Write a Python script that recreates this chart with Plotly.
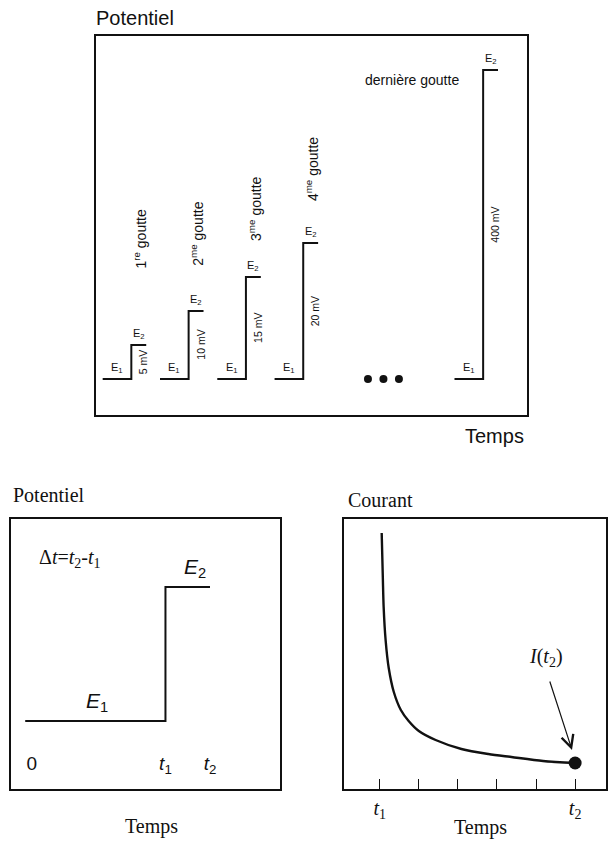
import plotly.graph_objects as go

# ---- Top panel: one potential pulse per mercury drop ----
drop_rank = ["1", "2", "3", "4"]
drop_suffix = ["re", "me", "me", "me"]
pulse_mV = [5, 10, 15, 20, 400]          # pulse amplitude for each drop
drop_start = [0.0, 1.0, 2.0, 3.0, 6.14]  # start of each drop (drop periods)
ellipsis_t = [4.63, 4.9, 5.17]
STEP_DELAY = 0.5                         # time from drop start to the pulse
HOLD = 0.26                              # duration of the E2 plateau
goutte_label_y = [20.7, 21.3, 25.0, 30.9]

# ---- Bottom-left: a single pulse E1 -> E2 ----
pulse_t = [-0.15, 3.0, 4.0]              # start, t1, t2
pulse_E = [1.0, 2.0, 2.0]
pulse_tickvals = [0, 3, 4]
pulse_ticktext = ["0", "<i>t</i><sub>1</sub>", "<i>t</i><sub>2</sub>"]

# ---- Bottom-right: current decay sampled between t1 and t2 ----
cur_t = [0.05, 0.08, 0.10, 0.15, 0.23, 0.36, 0.54, 0.74, 1.0, 1.43, 2.09, 2.78, 3.37, 4.18, 5.0]
cur_I = [25.6, 21.0, 18.2, 14.9, 12.1, 9.7, 7.9, 6.8, 5.8, 4.9, 4.0, 3.5, 3.2, 2.8, 2.6]
cur_tickvals = [0, 1, 2, 3, 4, 5]
cur_ticktext = ["<i>t</i><sub>1</sub>", "", "", "", "", "<i>t</i><sub>2</sub>"]

SANS = "Liberation Sans"
SERIF = "Liberation Serif"
INK = "#111111"

W, H = 608, 843


def px_x(p):
    return p / W


def px_y(p):
    return 1 - p / H


fig = go.Figure()

# pulses of the top panel (last one on its own scale, after the break)
for k, (t0, h) in enumerate(zip(drop_start, pulse_mV)):
    ts = t0 + STEP_DELAY
    fig.add_trace(go.Scatter(
        x=[t0, ts, ts + HOLD], y=[0, h, h],
        mode="lines", line=dict(color=INK, width=2, shape="hv"),
        xaxis="x", yaxis="y" if k < 4 else "y2",
        hoverinfo="skip", showlegend=False))

fig.add_trace(go.Scatter(
    x=ellipsis_t, y=[0] * len(ellipsis_t), mode="markers",
    marker=dict(color=INK, size=8), xaxis="x", yaxis="y",
    hoverinfo="skip", showlegend=False))

# single pulse
fig.add_trace(go.Scatter(
    x=pulse_t, y=pulse_E, mode="lines",
    line=dict(color=INK, width=2, shape="hv"),
    xaxis="x2", yaxis="y3", hoverinfo="skip", showlegend=False))

# current transient and sampled point
fig.add_trace(go.Scatter(
    x=cur_t, y=cur_I, mode="lines",
    line=dict(color=INK, width=2.4, shape="spline", smoothing=0.8),
    xaxis="x3", yaxis="y4", hoverinfo="skip", showlegend=False))
fig.add_trace(go.Scatter(
    x=[cur_t[-1]], y=[cur_I[-1]], mode="markers",
    marker=dict(color=INK, size=13), cliponaxis=False,
    xaxis="x3", yaxis="y4", hoverinfo="skip", showlegend=False))

box = dict(showline=True, mirror=True, linecolor=INK, linewidth=2,
           showgrid=False, zeroline=False, ticks="", showticklabels=False,
           fixedrange=True)

ann = []

# top panel labels
ann.append(dict(text="Potentiel", xref="paper", yref="paper", x=px_x(94), y=px_y(18),
                xanchor="left", yanchor="middle", showarrow=False,
                font=dict(family=SANS, size=20, color=INK)))
ann.append(dict(text="Temps", xref="paper", yref="paper", x=px_x(528), y=px_y(436),
                xanchor="right", yanchor="middle", showarrow=False,
                font=dict(family=SANS, size=20, color=INK)))

for k, (t0, h) in enumerate(zip(drop_start, pulse_mV)):
    ts = t0 + STEP_DELAY
    yr = "y" if k < 4 else "y2"
    small = dict(family=SANS, size=11, color=INK)
    ann.append(dict(text="E<sub>1</sub>", x=t0 + 0.25, y=0, xref="x", yref=yr,
                    xanchor="center", yanchor="bottom", yshift=2, showarrow=False, font=small))
    ann.append(dict(text="E<sub>2</sub>", x=ts + HOLD / 2, y=h, xref="x", yref=yr,
                    xanchor="center", yanchor="bottom", yshift=2, showarrow=False, font=small))
    ann.append(dict(text=f"{h} mV", x=ts, y=h / 2, xref="x", yref=yr, xshift=12,
                    textangle=-90, xanchor="center", yanchor="middle", showarrow=False,
                    font=dict(family=SANS, size=10.5, color=INK)))
    if k < 4:
        ann.append(dict(text=f"{drop_rank[k]}<sup>{drop_suffix[k]}</sup> goutte",
                        x=ts, y=goutte_label_y[k], xref="x", yref="y", xshift=9,
                        textangle=-90, xanchor="center", yanchor="middle", showarrow=False,
                        font=dict(family=SANS, size=14, color=INK)))

ann.append(dict(text="dernière goutte", x=5.39, y=387, xref="x", yref="y2",
                xanchor="center", yanchor="middle", showarrow=False,
                font=dict(family=SANS, size=14, color=INK)))

# bottom-left labels
serif20 = dict(family=SERIF, size=20, color=INK)
ann.append(dict(text="Potentiel", xref="paper", yref="paper", x=px_x(11), y=px_y(495),
                xanchor="left", yanchor="middle", showarrow=False, font=serif20))
ann.append(dict(text="Temps", xref="paper", yref="paper", x=px_x(152), y=px_y(826),
                xanchor="center", yanchor="middle", showarrow=False, font=serif20))
ann.append(dict(text="Δ<i>t</i>=<i>t</i><sub>2</sub>-<i>t</i><sub>1</sub>",
                x=0.11, y=2.209, xref="x2", yref="y3", xanchor="left", yanchor="middle",
                showarrow=False, font=serif20))
ann.append(dict(text="<i>E</i><sub>1</sub>", x=1.455, y=pulse_E[0], xref="x2", yref="y3",
                xanchor="center", yanchor="bottom", yshift=4, showarrow=False,
                font=dict(family=SANS, size=21, color=INK)))
ann.append(dict(text="<i>E</i><sub>2</sub>", x=3.67, y=pulse_E[1], xref="x2", yref="y3",
                xanchor="center", yanchor="bottom", yshift=4, showarrow=False,
                font=dict(family=SANS, size=21, color=INK)))

# bottom-right labels
ann.append(dict(text="Courant", xref="paper", yref="paper", x=px_x(347), y=px_y(500),
                xanchor="left", yanchor="middle", showarrow=False, font=serif20))
ann.append(dict(text="Temps", xref="paper", yref="paper", x=px_x(482), y=px_y(827),
                xanchor="center", yanchor="middle", showarrow=False, font=serif20))
ann.append(dict(text="<i>I</i>(<i>t</i><sub>2</sub>)", x=4.26, y=13.2, xref="x3", yref="y4",
                xanchor="center", yanchor="middle", showarrow=False, font=serif20))
ann.append(dict(text="", x=4.92, y=3.9, ax=4.34, ay=10.9, xref="x3", yref="y4",
                axref="x3", ayref="y4", showarrow=True, arrowhead=5, arrowsize=2,
                arrowwidth=1.2, arrowcolor=INK))

fig.update_layout(
    width=W, height=H,
    margin=dict(l=0, r=0, t=0, b=0),
    paper_bgcolor="white", plot_bgcolor="white",
    showlegend=False,
    xaxis=dict(box, domain=[px_x(96), px_x(529)], range=[-0.122, 7.41], anchor="y"),
    yaxis=dict(box, domain=[px_y(415), px_y(36)], range=[-5.29, 50.44], anchor="x"),
    yaxis2=dict(overlaying="y", range=[-46.6, 444.0], visible=False, anchor="x",
                fixedrange=True),
    xaxis2=dict(box, domain=[px_x(11), px_x(281)], range=[-0.47, 5.574], anchor="y3",
                showticklabels=True, tickvals=pulse_tickvals, ticktext=pulse_ticktext,
                ticklabelposition="inside", ticklabelstandoff=16,
                tickfont=dict(family=SANS, size=19, color=INK)),
    yaxis3=dict(box, domain=[px_y(789), px_y(519)], range=[0.493, 2.507], anchor="x2"),
    xaxis3=dict(box, domain=[px_x(345), 1.0], range=[-0.918, 5.79], anchor="y4",
                ticks="inside", ticklen=10, tickwidth=1.3, tickcolor=INK,
                tickvals=cur_tickvals, ticktext=cur_ticktext, showticklabels=True,
                tickfont=dict(family=SERIF, size=20, color=INK)),
    yaxis4=dict(box, domain=[px_y(789), px_y(519)], range=[0, 27], anchor="x3"),
    annotations=ann,
)

fig.write_html("out.html")
